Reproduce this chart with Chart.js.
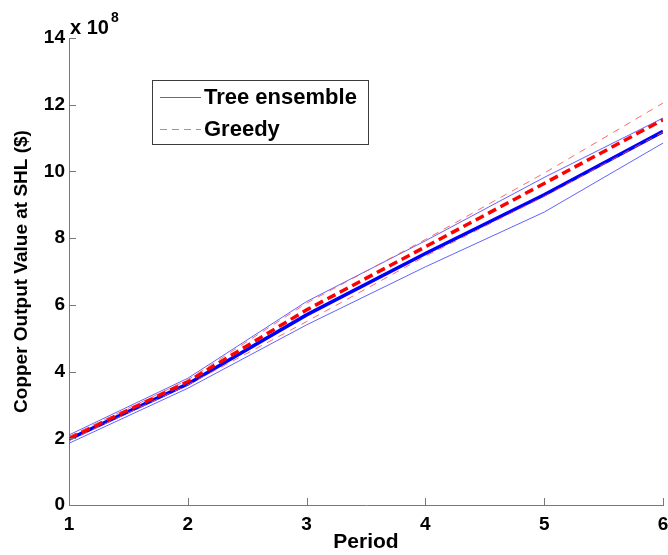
<!DOCTYPE html>
<html>
<head>
<meta charset="utf-8">
<script src="https://cdn.jsdelivr.net/npm/chart.js@4/dist/chart.umd.min.js"></script>
<style>
  html, body { margin: 0; padding: 0; background: #fff; }
  #wrap { width: 668px; height: 555px; }
</style>
</head>
<body>
<div id="wrap"><canvas id="chart"></canvas></div>
<script>
// Periods on the x axis
const periods = [1, 2, 3, 4, 5, 6];

// Copper output value, in units of 10^8 $
const treeMean  = [1.97, 3.63, 5.70, 7.54, 9.30, 11.20];
const treeUpper = [2.10, 3.80, 6.10, 7.92, 9.82, 11.60];
const treeLower = [1.85, 3.50, 5.40, 7.14, 8.78, 10.85];

const greedyMean  = [2.00, 3.70, 5.85, 7.74, 9.64, 11.55];
const greedyUpper = [2.05, 3.75, 6.05, 7.96, 9.95, 12.05];
const greedyLower = [1.93, 3.60, 5.50, 7.46, 9.25, 11.18];

// Tick labels
const xTicks = [1, 2, 3, 4, 5, 6];
const yTicks = [0, 2, 4, 6, 8, 10, 12, 14];

const legendItems = [
    { label: 'Tree ensemble', color: 'rgb(90, 90, 255)', dash: [] },
    { label: 'Greedy', color: 'rgb(255, 110, 110)', dash: [7, 5] }
];

const FONT = '"Liberation Sans", Arial, Helvetica, sans-serif';

function toPoints(values) {
    return periods.map((p, i) => ({ x: p, y: values[i] }));
}

const thinBlue = 'rgba(70, 70, 255, 0.85)';
const thinRed = 'rgba(255, 80, 80, 0.85)';

const data = {
    datasets: [
        { label: 'Greedy lower', data: toPoints(greedyLower), borderColor: thinRed, borderWidth: 1, borderDash: [7, 6] },
        { label: 'Greedy upper', data: toPoints(greedyUpper), borderColor: thinRed, borderWidth: 1, borderDash: [7, 6] },
        { label: 'Greedy', data: toPoints(greedyMean), borderColor: 'rgb(255, 0, 0)', borderWidth: 3.5, borderDash: [9, 5] },
        { label: 'Tree lower', data: toPoints(treeLower), borderColor: thinBlue, borderWidth: 1 },
        { label: 'Tree upper', data: toPoints(treeUpper), borderColor: thinBlue, borderWidth: 1 },
        { label: 'Tree ensemble', data: toPoints(treeMean), borderColor: 'rgb(0, 0, 255)', borderWidth: 3.5 }
    ].map(d => Object.assign({ pointRadius: 0, fill: false, tension: 0 }, d))
};

// Inward tick marks, the "x 10^8" multiplier and the boxed legend
const decorations = {
    id: 'decorations',
    afterDraw(chart) {
        const ctx = chart.ctx;
        const xs = chart.scales.x;
        const ys = chart.scales.y;
        const area = chart.chartArea;
        ctx.save();
        ctx.strokeStyle = 'rgb(120, 120, 120)';
        ctx.lineWidth = 1;
        ctx.beginPath();
        xTicks.forEach(t => {
            const px = Math.round(xs.getPixelForValue(t)) + 0.5;
            ctx.moveTo(px, area.bottom);
            ctx.lineTo(px, area.bottom - 7);
        });
        yTicks.forEach(t => {
            const py = Math.round(ys.getPixelForValue(t)) + 0.5;
            ctx.moveTo(area.left, py);
            ctx.lineTo(area.left + 7, py);
        });
        ctx.stroke();

        // exponent label
        ctx.fillStyle = '#000';
        ctx.textBaseline = 'alphabetic';
        ctx.textAlign = 'left';
        ctx.font = 'bold 20px ' + FONT;
        ctx.fillText('x 10', area.left + 1, 34);
        const w = ctx.measureText('x 10').width;
        ctx.font = 'bold 14px ' + FONT;
        ctx.fillText('8', area.left + 3 + w, 22);

        // legend box
        const bx = 152, by = 80, bw = 216, bh = 64;
        ctx.fillStyle = '#fff';
        ctx.fillRect(bx, by, bw, bh);
        ctx.strokeStyle = 'rgb(60, 60, 60)';
        ctx.strokeRect(bx + 0.5, by + 0.5, bw, bh);
        ctx.font = 'bold 22px ' + FONT;
        ctx.textBaseline = 'middle';
        legendItems.forEach((item, i) => {
            const y = by + 17 + i * 32;
            ctx.strokeStyle = item.color;
            ctx.setLineDash(item.dash);
            ctx.beginPath();
            ctx.moveTo(bx + 8, y + 0.5);
            ctx.lineTo(bx + 49, y + 0.5);
            ctx.stroke();
            ctx.setLineDash([]);
            ctx.fillStyle = '#000';
            ctx.fillText(item.label, bx + 52, y + 1);
        });
        ctx.restore();
    }
};

const config = {
    type: 'line',
    data: data,
    options: {
        responsive: true,
        maintainAspectRatio: false,
        animation: false,
        layout: { padding: { top: 38, right: 0, left: 0, bottom: 0 } },
        plugins: {
            legend: { display: false },
            tooltip: { enabled: false }
        },
        scales: {
            x: {
                type: 'linear',
                min: 1,
                max: 6,
                afterFit(scale) {
                    scale.height = 50;
                    scale.paddingRight = 5;
                },
                afterBuildTicks(scale) { scale.ticks = xTicks.map(v => ({ value: v })); },
                grid: { display: false },
                border: { display: true, color: 'rgb(120, 120, 120)', width: 1 },
                ticks: {
                    color: '#000',
                    padding: 0,
                    maxRotation: 0,
                    font: { family: FONT, size: 19, weight: 'bold' }
                },
                title: {
                    display: true,
                    text: 'Period',
                    color: '#000',
                    padding: { top: 0, bottom: 0 },
                    font: { family: FONT, size: 21, weight: 'bold' }
                }
            },
            y: {
                min: 0,
                max: 14,
                afterFit(scale) { scale.width = 69; },
                afterBuildTicks(scale) { scale.ticks = yTicks.map(v => ({ value: v })); },
                grid: { display: false, drawTicks: false, tickLength: 0 },
                border: { display: true, color: 'rgb(120, 120, 120)', width: 1 },
                ticks: {
                    color: '#000',
                    padding: 4,
                    font: { family: FONT, size: 19, weight: 'bold' }
                },
                title: {
                    display: true,
                    text: 'Copper Output Value at SHL ($)',
                    color: '#000',
                    padding: { top: 10, bottom: 0 },
                    font: { family: FONT, size: 19, weight: 'bold' }
                }
            }
        }
    },
    plugins: [decorations]
};

const copperChart = new Chart(document.getElementById('chart'), config);
</script>
</body>
</html>
